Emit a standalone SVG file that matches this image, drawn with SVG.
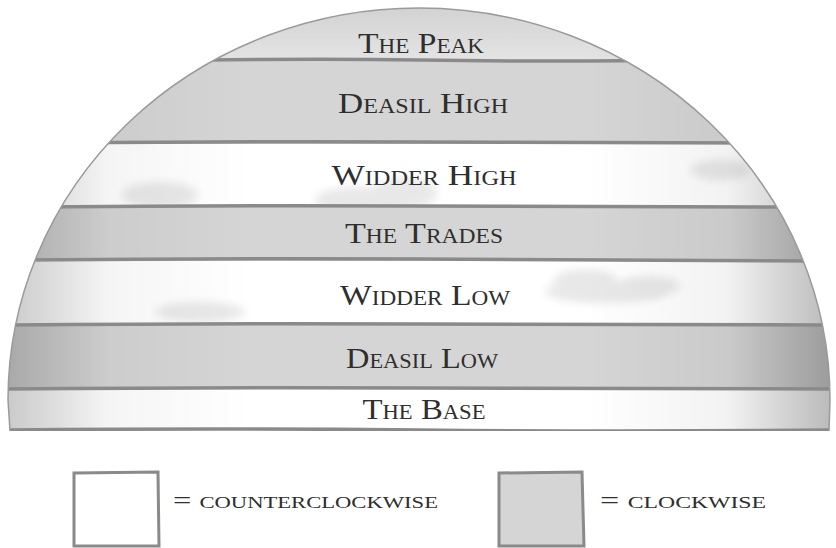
<svg xmlns="http://www.w3.org/2000/svg" width="836" height="548" viewBox="0 0 836 548">
<style>
.lbl{font-family:"Liberation Serif","DejaVu Serif",serif;font-variant:small-caps;fill:#2e2e2e;text-anchor:middle}
.band{font-size:29px}
.leg{font-size:23px;text-anchor:start}
.gray{fill:#d5d5d5}
.white{fill:#ffffff}
.line{fill:none;stroke:#8a8a8a;stroke-width:3.5;stroke-linecap:round}
.thin{fill:none;stroke:#9a9a9a;stroke-width:1.5}
.cloud{fill:#e8e8e8;filter:url(#soft)}
</style>
<defs>
<filter id="soft" x="-30%" y="-60%" width="160%" height="220%"><feGaussianBlur stdDeviation="4"/></filter>
<clipPath id="dome"><path d="M10 431 L8 400 A411 392 0 0 1 830 400 L829 431 Z"/></clipPath>
<linearGradient id="shade" x1="0" y1="0" x2="1" y2="0">
<stop offset="0" stop-color="#000" stop-opacity="0.22"/>
<stop offset="0.13" stop-color="#000" stop-opacity="0.04"/>
<stop offset="0.3" stop-color="#000" stop-opacity="0"/>
<stop offset="0.7" stop-color="#000" stop-opacity="0"/>
<stop offset="0.87" stop-color="#000" stop-opacity="0.05"/>
<stop offset="1" stop-color="#000" stop-opacity="0.28"/>
</linearGradient>
<linearGradient id="peak" x1="0" y1="0" x2="0" y2="1">
<stop offset="0" stop-color="#d0d0d0"/>
<stop offset="1" stop-color="#e4e4e4"/>
</linearGradient>
</defs>
<g clip-path="url(#dome)">
<g id="the-peak"><rect x="0" y="0" width="836" height="61" fill="url(#peak)"/></g>
<g id="deasil-high"><rect class="gray" x="0" y="61" width="836" height="83"/></g>
<g id="widder-high"><rect class="white" x="0" y="144" width="836" height="63"/>
<ellipse class="cloud" cx="360" cy="200" rx="45" ry="13"/><ellipse class="cloud" cx="405" cy="193" rx="32" ry="15"/><ellipse class="cloud" cx="160" cy="195" rx="38" ry="13"/><ellipse class="cloud" cx="720" cy="170" rx="30" ry="10"/></g>
<g id="the-trades"><rect class="gray" x="0" y="207" width="836" height="54"/></g>
<g id="widder-low"><rect class="white" x="0" y="261" width="836" height="64"/>
<ellipse class="cloud" cx="605" cy="292" rx="60" ry="11" fill="#dedede"/><ellipse class="cloud" cx="585" cy="282" rx="32" ry="13" fill="#dedede"/><ellipse class="cloud" cx="650" cy="286" rx="30" ry="10" fill="#e2e2e2"/><ellipse class="cloud" cx="200" cy="312" rx="45" ry="10"/></g>
<g id="deasil-low"><rect class="gray" x="0" y="325" width="836" height="64"/></g>
<g id="the-base"><rect class="white" x="0" y="389" width="836" height="42"/></g>
<rect x="0" y="0" width="836" height="431" fill="url(#shade)"/>
<g id="connectors">
<path class="line" d="M150 61 Q300 58 420 60 T700 60"/>
<path class="line" d="M60 143 Q250 141 420 142 T790 143"/>
<path class="line" d="M30 207 Q220 205 420 206 T810 207"/>
<path class="line" d="M20 260 Q220 258 420 259 T820 261"/>
<path class="line" d="M10 325 Q220 323 420 324 T830 325"/>
<path class="line" d="M5 389 Q220 387 420 388 T832 389"/>
<path class="line" d="M5 430 Q220 428 420 430 T832 430"/>
</g>
</g>
<path class="thin" d="M10 431 L8 400 A411 392 0 0 1 830 400 L829 431"/>
<text class="lbl band" x="421" y="53" textLength="126" lengthAdjust="spacingAndGlyphs">The Peak</text>
<text class="lbl band" x="423" y="113" textLength="170" lengthAdjust="spacingAndGlyphs">Deasil High</text>
<text class="lbl band" x="424" y="185" textLength="185" lengthAdjust="spacingAndGlyphs">Widder High</text>
<text class="lbl band" x="424" y="243" textLength="158" lengthAdjust="spacingAndGlyphs">The Trades</text>
<text class="lbl band" x="425" y="305" textLength="170" lengthAdjust="spacingAndGlyphs">Widder Low</text>
<text class="lbl band" x="422" y="368" textLength="152" lengthAdjust="spacingAndGlyphs">Deasil Low</text>
<text class="lbl band" x="424" y="419" textLength="123" lengthAdjust="spacingAndGlyphs">The Base</text>
<g id="legend-ccw">
<path d="M74 473 L158 472 L159 546 L74 546 Z" fill="#fff" stroke="#8a8a8a" stroke-width="3"/>
<text class="lbl leg" x="173" y="508" textLength="265" lengthAdjust="spacingAndGlyphs">= counterclockwise</text>
</g>
<g id="legend-cw">
<path d="M499 473 L582 472 L584 546 L499 546 Z" fill="#d5d5d5" stroke="#8a8a8a" stroke-width="3"/>
<text class="lbl leg" x="600" y="508" textLength="166" lengthAdjust="spacingAndGlyphs">= clockwise</text>
</g>
</svg>
